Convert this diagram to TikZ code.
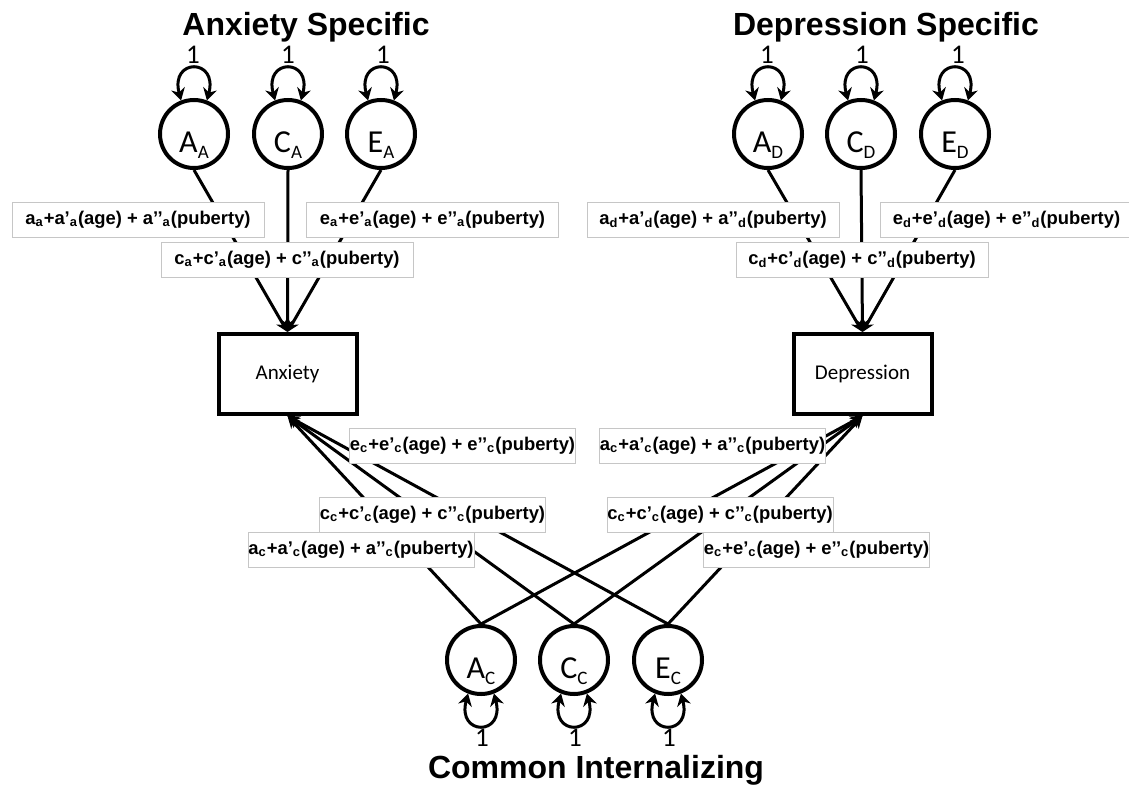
\documentclass[tikz,border=0pt]{standalone}
\usepackage{fontspec}
\setmainfont{Liberation Sans}
\newfontfamily\calfont{Carlito}
\usetikzlibrary{arrows.meta,positioning}

\newcommand{\lowsub}[1]{\raisebox{-0.45ex}{\fontsize{9.5}{10}\selectfont #1}}
\newcommand{\moderation}[2]{#1\textsubscript{#2}+#1’\textsubscript{#2}(age) + #1’’\textsubscript{#2}(puberty)}

\tikzset{
  latent/.style={circle, draw, line width=2pt, minimum size=34pt, inner sep=0pt,
    font=\calfont\fontsize{16}{16}\selectfont, text height=18pt, text depth=0pt},
  observed/.style={rectangle, draw, line width=2pt, minimum width=69pt, minimum height=40pt,
    font=\calfont\fontsize{10.5}{12}\selectfont},
  unit/.style={font=\calfont\fontsize{13.5}{14}\selectfont, anchor=base, inner sep=0pt},
  heading/.style={font=\bfseries\fontsize{16}{18}\selectfont, anchor=base, inner sep=0pt},
  pathlab/.style={draw=gray!45, line width=0.5pt, fill=white, inner sep=0pt,
    font=\bfseries\fontsize{9.2}{11}\selectfont, minimum width=126pt, minimum height=17.5pt},
  cpathlab/.style={pathlab, minimum width=113pt},
  load/.style={line width=1.5pt, -{Stealth[length=6pt,width=6pt]}},
  varloop/.style={line width=1.5pt, {Stealth[length=6pt,width=7pt]}-{Stealth[length=6pt,width=7pt]}},
}

\begin{document}
\begin{tikzpicture}[x=0.5pt, y=-0.5pt]
    \useasboundingbox (0,0) rectangle (1129,787);

    % titles
    \node[heading] (anxtitle) at (306,35) {Anxiety Specific};
    \node[heading] (deptitle) at (886,35) {Depression Specific};
    \node[heading] (comtitle) at (596,778) {Common Internalizing};

    % latent factors
    \node[latent] (AA) at (194,134) {A\lowsub{A}};
    \node[latent] (CA) at (288,134) {C\lowsub{A}};
    \node[latent] (EA) at (381,134) {E\lowsub{A}};
    \node[latent] (AD) at (768,134) {A\lowsub{D}};
    \node[latent] (CD) at (861,134) {C\lowsub{D}};
    \node[latent] (ED) at (955,134) {E\lowsub{D}};
    \node[latent] (AC) at (481,660) {A\lowsub{C}};
    \node[latent] (CC) at (574,660) {C\lowsub{C}};
    \node[latent] (EC) at (668,660) {E\lowsub{C}};

    % observed phenotypes
    \node[observed] (anx) at (287.5,374) {Anxiety};
    \node[observed] (dep) at (862.5,374) {Depression};

    % variances fixed to 1
    \node[unit] (vAA) at (193,63) {1};
    \node[unit] (vCA) at (288,63) {1};
    \node[unit] (vEA) at (383,63) {1};
    \node[unit] (vAD) at (767,63) {1};
    \node[unit] (vCD) at (862,63) {1};
    \node[unit] (vED) at (958,63) {1};
    \node[unit] (vAC) at (482,746) {1};
    \node[unit] (vCC) at (575,746) {1};
    \node[unit] (vEC) at (669,746) {1};

    \draw[varloop] (AA.111) .. controls +(105:22pt) and +(75:22pt) .. (AA.69);
    \draw[varloop] (CA.111) .. controls +(105:22pt) and +(75:22pt) .. (CA.69);
    \draw[varloop] (EA.111) .. controls +(105:22pt) and +(75:22pt) .. (EA.69);
    \draw[varloop] (AD.111) .. controls +(105:22pt) and +(75:22pt) .. (AD.69);
    \draw[varloop] (CD.111) .. controls +(105:22pt) and +(75:22pt) .. (CD.69);
    \draw[varloop] (ED.111) .. controls +(105:22pt) and +(75:22pt) .. (ED.69);
    \draw[varloop] (AC.-111) .. controls +(-105:22pt) and +(-75:22pt) .. (AC.-69);
    \draw[varloop] (CC.-111) .. controls +(-105:22pt) and +(-75:22pt) .. (CC.-69);
    \draw[varloop] (EC.-111) .. controls +(-105:22pt) and +(-75:22pt) .. (EC.-69);

    % specific paths
    \draw[load] (AA.south) -- (anx.north);
    \draw[load] (CA.south) -- (anx.north);
    \draw[load] (EA.south) -- (anx.north);
    \draw[load] (AD.south) -- (dep.north);
    \draw[load] (CD.south) -- (dep.north);
    \draw[load] (ED.south) -- (dep.north);

    % common paths
    \draw[load] (AC.north) -- (anx.south);
    \draw[load] (CC.north) -- (anx.south);
    \draw[load] (EC.north) -- (anx.south);
    \draw[load] (AC.north) -- (dep.south);
    \draw[load] (CC.north) -- (dep.south);
    \draw[load] (EC.north) -- (dep.south);

    % path labels
    \node[pathlab] (laa) at (138,219.5) {\moderation{a}{a}};
    \node[pathlab] (lea) at (432.5,219.5) {\moderation{e}{a}};
    \node[pathlab] (lca) at (287,259.5) {\moderation{c}{a}};
    \node[pathlab] (lad) at (713,219.5) {\moderation{a}{d}};
    \node[pathlab] (led) at (1006.5,219.5) {\moderation{e}{d}};
    \node[pathlab] (lcd) at (862,259.5) {\moderation{c}{d}};

    \node[cpathlab] (lecx) at (462.5,446) {\moderation{e}{c}};
    \node[cpathlab] (lccx) at (432.5,515) {\moderation{c}{c}};
    \node[cpathlab] (lacx) at (361,549.5) {\moderation{a}{c}};
    \node[cpathlab] (lacy) at (712.5,446) {\moderation{a}{c}};
    \node[cpathlab] (lccy) at (720,515) {\moderation{c}{c}};
    \node[cpathlab] (lecy) at (816.5,549.5) {\moderation{e}{c}};
\end{tikzpicture}
\end{document}
